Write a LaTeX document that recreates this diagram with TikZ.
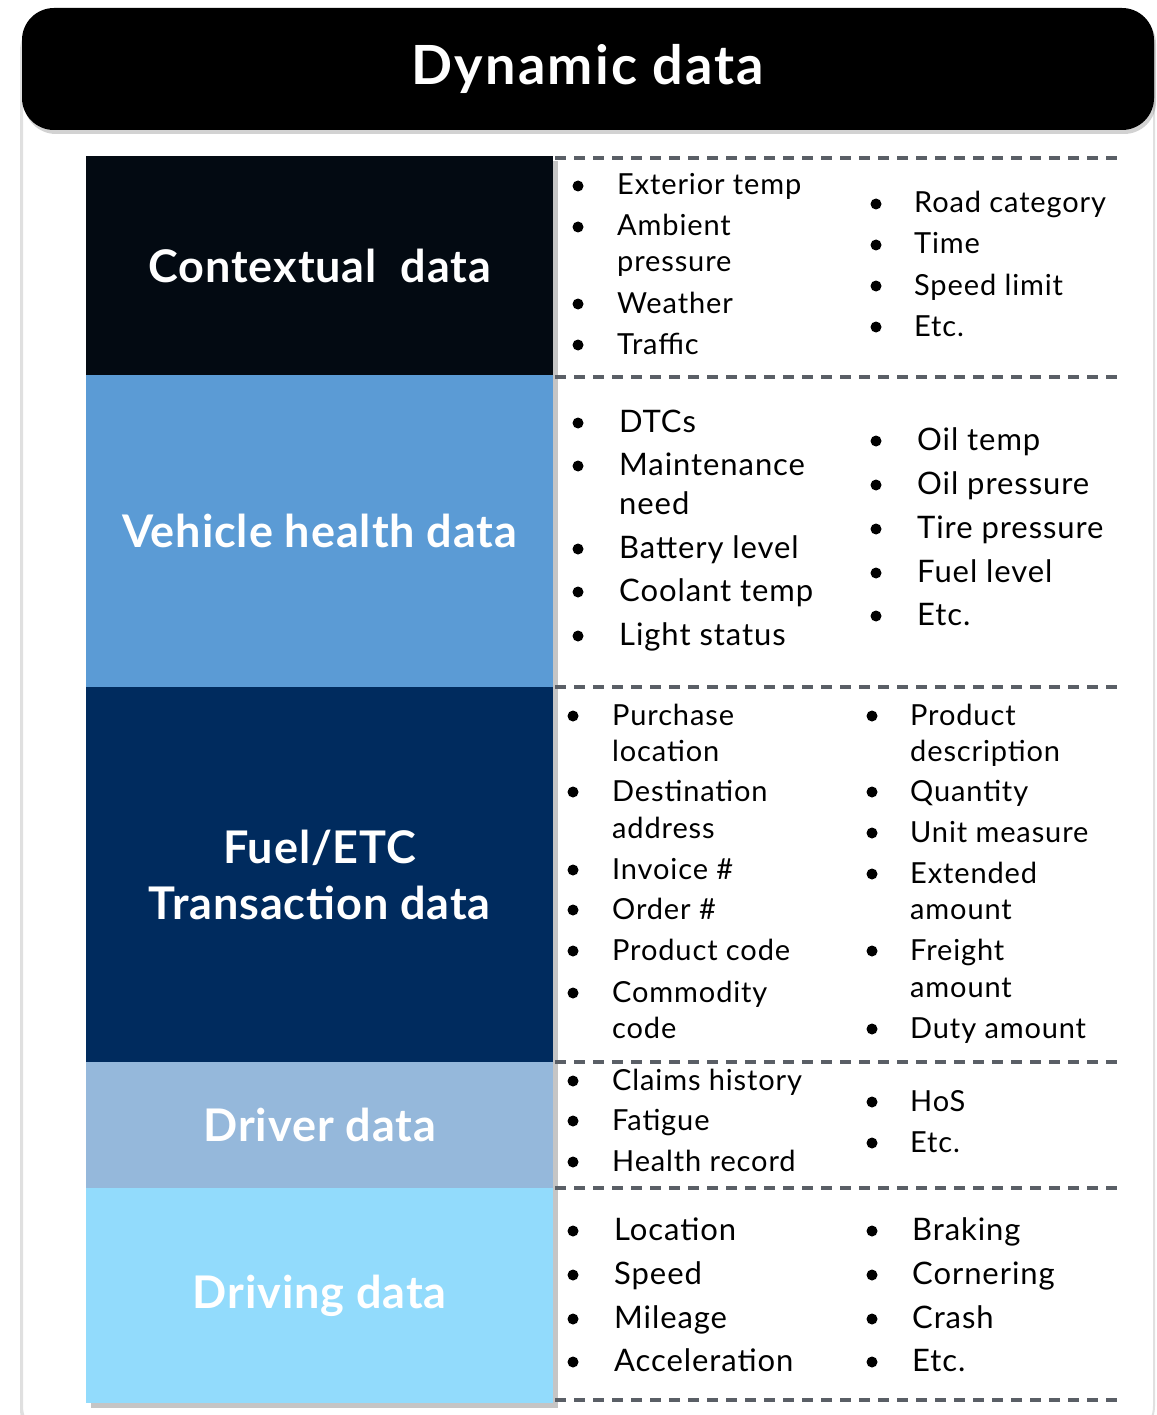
\documentclass[tikz,border=0pt]{standalone}
\usepackage{fontspec}
\setmainfont{Lato}
\newfontfamily\itemfont{Lato}[LetterSpace=3]
\newfontfamily\catfont{Lato}[LetterSpace=2]
\newfontfamily\hdrfont{Lato}[LetterSpace=4]
\usetikzlibrary{shadows}
\definecolor{ctxc}{HTML}{030A12}
\definecolor{vhc}{HTML}{5B9BD5}
\definecolor{fuelc}{HTML}{002B5E}
\definecolor{drvc}{HTML}{95B8DB}
\definecolor{drgc}{HTML}{92DBFC}
\definecolor{dashgray}{HTML}{5A5F66}
\newcommand\itm[5]{\node[bul] (#1b) at (#2,#4) {}; \node[item] (#1) at (#3,#4) {#5};}
\begin{document}
\begin{tikzpicture}[x=1pt,y=-1pt,
 item/.style={anchor=base west, inner sep=0pt, yshift=-9pt, font=\itemfont\fontsize{29}{34}\selectfont, text=black},
 bul/.style={circle, fill=black, inner sep=0pt, minimum size=11pt},
 cat/.style={text=white, font=\catfont\fontsize{45}{56}\selectfont\bfseries, align=center, rectangle, inner sep=0pt, minimum width=467pt, anchor=north west},
 sepline/.style={draw=dashgray, line width=4.5pt, dash pattern=on 11pt off 8pt}
]
\useasboundingbox (0,0) rectangle (1156,1415);
\fill[white] (0,0) rectangle (1156,1415);
% outer panel
\fill[white, draw=black!12, line width=2pt, rounded corners=34pt,
  drop shadow={shadow xshift=-2pt, shadow yshift=-3pt, opacity=0.25}] (22,14) rectangle (1154,1440);
% header
\node[fill=black, rounded corners=32pt, minimum width=1132pt, minimum height=122pt, inner sep=0pt,
  drop shadow={shadow xshift=2pt, shadow yshift=-4pt, opacity=0.35},
  text=white, font=\hdrfont\fontsize{54}{60}\selectfont\bfseries] (hdr) at (588,69) {Dynamic data};
% column shadow
\fill[white, drop shadow={shadow xshift=5pt, shadow yshift=-5pt, opacity=0.45}] (86,156) rectangle (553,1403);
% blocks
\node[cat, fill=ctxc, minimum height=219pt] (ctx) at (86,156) {Contextual~ data};
\node[cat, fill=vhc, minimum height=312pt] (vh) at (86,375) {Vehicle health data};
\node[cat, fill=fuelc, minimum height=375pt] (fuel) at (86,687) {Fuel/ETC\\Transaction data};
\node[cat, fill=drvc, minimum height=126pt] (drv) at (86,1062) {Driver data};
\node[cat, fill=drgc, minimum height=215pt] (drg) at (86,1188) {Driving data};
% separators
\foreach \yy in {158,377,687,1062,1188,1400} {\draw[sepline] (555,\yy) -- (1118,\yy);}
% contextual
\itm{a1}{578}{617}{186}{Exterior temp}
\itm{a2}{578}{617}{227}{Ambient}
\node[item] (a2x) at (617,263) {pressure};
\itm{a3}{578}{617}{304}{Weather}
\itm{a4}{578}{617}{345}{Traffic}
\itm{a5}{876}{914}{204}{Road category}
\itm{a6}{876}{914}{245}{Time}
\itm{a7}{876}{914}{286}{Speed limit}
\itm{a8}{876}{914}{327}{Etc.}
% vehicle health
\begin{scope}[item/.append style={font=\itemfont\fontsize{31}{36}\selectfont}]
\itm{b1}{578}{619}{423}{DTCs}
\itm{b2}{578}{619}{466}{Maintenance}
\node[item] (b2x) at (619,505) {need};
\itm{b3}{578}{619}{549}{Battery level}
\itm{b4}{578}{619}{592}{Coolant temp}
\itm{b5}{578}{619}{636}{Light status}
\itm{b6}{876}{917}{441}{Oil temp}
\itm{b7}{876}{917}{485}{Oil pressure}
\itm{b8}{876}{917}{529}{Tire pressure}
\itm{b9}{876}{917}{573}{Fuel level}
\itm{b10}{876}{917}{616}{Etc.}
\end{scope}
% fuel
\itm{c1}{573}{612}{716}{Purchase}
\node[item] (c1x) at (612,752) {location};
\itm{c2}{573}{612}{792}{Destination}
\node[item] (c2x) at (612,829) {address};
\itm{c3}{573}{612}{870}{Invoice \#}
\itm{c4}{573}{612}{910}{Order \#}
\itm{c5}{573}{612}{951}{Product code}
\itm{c6}{573}{612}{993}{Commodity}
\node[item] (c6x) at (612,1029) {code};
\itm{c7}{872}{910}{716}{Product}
\node[item] (c7x) at (910,752) {description};
\itm{c8}{872}{910}{792}{Quantity}
\itm{c9}{872}{910}{833}{Unit measure}
\itm{c10}{872}{910}{874}{Extended}
\node[item] (c10x) at (910,910) {amount};
\itm{c11}{872}{910}{951}{Freight}
\node[item] (c11x) at (910,988) {amount};
\itm{c12}{872}{910}{1029}{Duty amount}
% driver
\itm{d1}{573}{612}{1081}{Claims history}
\itm{d2}{573}{612}{1121}{Fatigue}
\itm{d3}{573}{612}{1162}{Health record}
\itm{d4}{872}{910}{1102}{HoS}
\itm{d5}{872}{910}{1143}{Etc.}
% driving
\begin{scope}[item/.append style={font=\itemfont\fontsize{31}{36}\selectfont}]
\itm{e1}{573}{614}{1231}{Location}
\itm{e2}{573}{614}{1275}{Speed}
\itm{e3}{573}{614}{1319}{Mileage}
\itm{e4}{573}{614}{1362}{Acceleration}
\itm{e5}{872}{912}{1231}{Braking}
\itm{e6}{872}{912}{1275}{Cornering}
\itm{e7}{872}{912}{1319}{Crash}
\itm{e8}{872}{912}{1362}{Etc.}
\end{scope}
\end{tikzpicture}
\end{document}
